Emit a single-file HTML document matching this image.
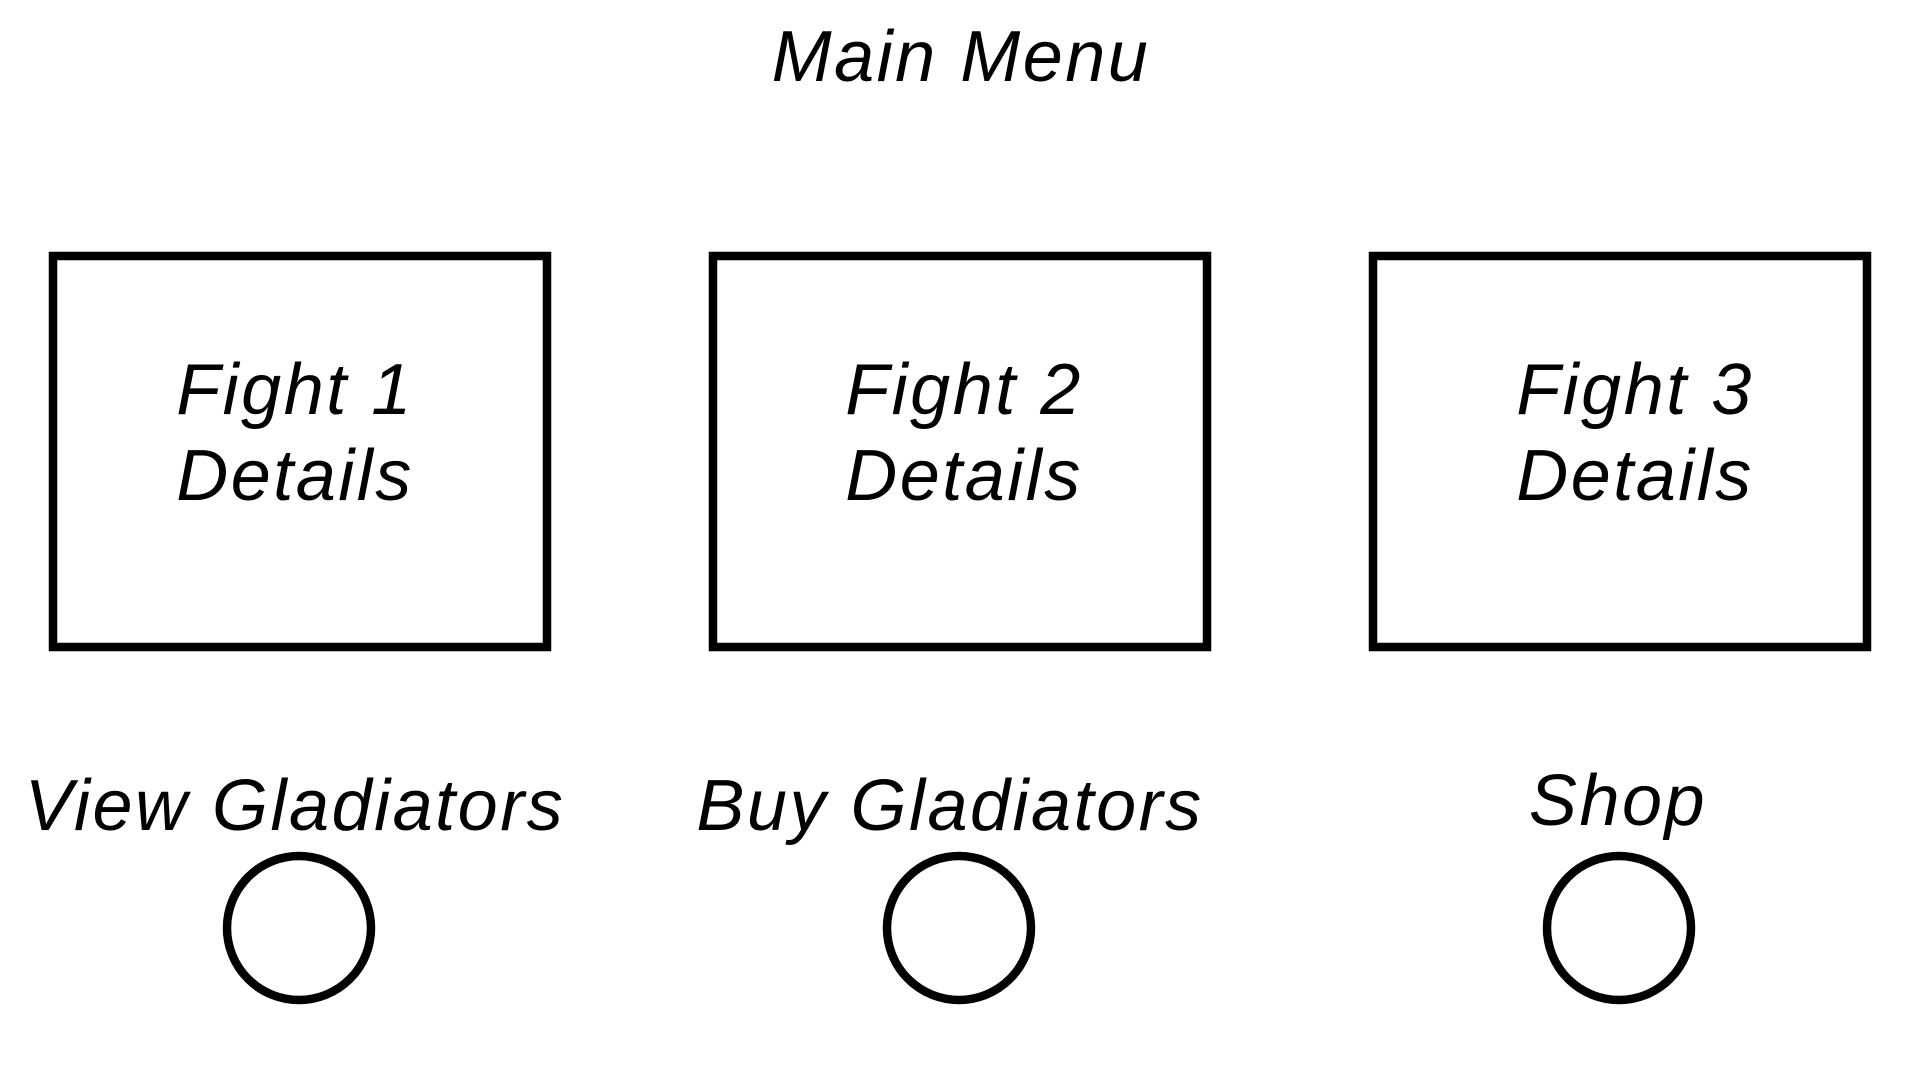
<!DOCTYPE html>
<html><head><meta charset="utf-8"><style>
html,body{margin:0;padding:0;background:#fff;}
svg{display:block;}
text{font-family:"Liberation Sans",Arial,sans-serif;font-style:italic;font-size:72px;letter-spacing:2.5px;fill:#000;text-anchor:middle;}
</style></head><body>
<svg width="1920" height="1080" viewBox="0 0 1920 1080">
<text x="961" y="81">Main Menu</text>
<g fill="none" stroke="#000" stroke-width="8.5">
<rect x="53" y="256" width="494" height="391"/>
<rect x="713" y="256" width="494" height="391"/>
<rect x="1373" y="256" width="494" height="391"/>
<circle cx="299" cy="928" r="72"/>
<circle cx="959" cy="928" r="72"/>
<circle cx="1619" cy="928" r="72"/>
</g>
<text x="295" y="414">Fight 1</text><text x="295" y="500">Details</text>
<text x="964" y="414">Fight 2</text><text x="964" y="500">Details</text>
<text x="1635" y="414">Fight 3</text><text x="1635" y="500">Details</text>
<text x="295" y="830">View Gladiators</text>
<text x="950" y="830">Buy Gladiators</text>
<text x="1618" y="825">Shop</text>
</svg>
</body></html>
